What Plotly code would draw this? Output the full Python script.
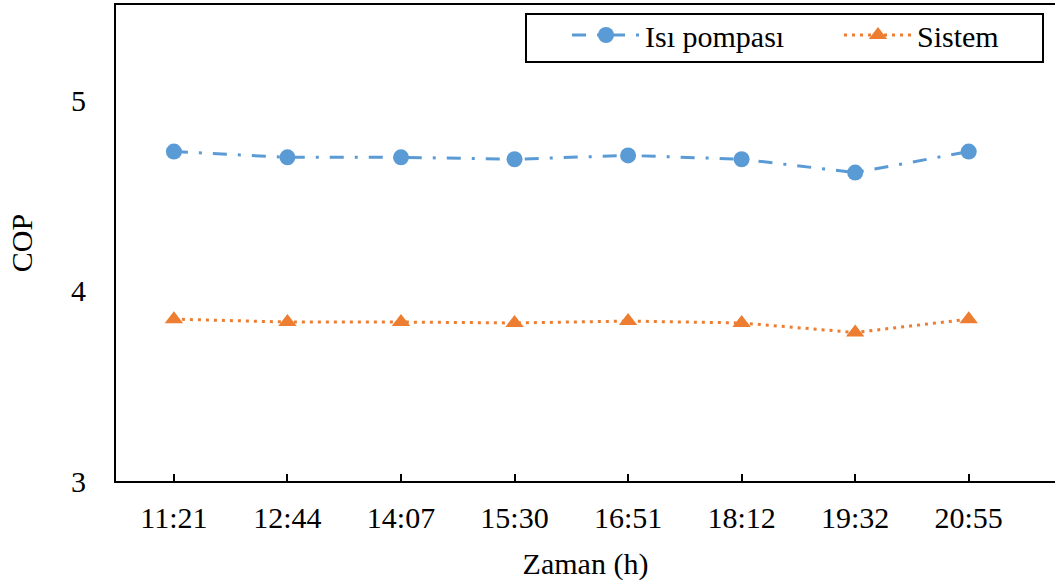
import plotly.graph_objects as go

times = ["11:21", "12:44", "14:07", "15:30", "16:51", "18:12", "19:32", "20:55"]
isi_pompasi = [4.73, 4.70, 4.70, 4.69, 4.71, 4.69, 4.62, 4.73]
sistem = [3.85, 3.835, 3.835, 3.83, 3.84, 3.83, 3.78, 3.85]

FONT = "Liberation Serif, Times New Roman, serif"
BLUE = "#5B9BD5"
ORANGE = "#ED7D31"

fig = go.Figure()
fig.add_trace(go.Scatter(
    x=times, y=isi_pompasi, name="Isı pompası", mode="lines+markers",
    line=dict(color=BLUE, width=3, dash="14px,11px,3px,11px"),
    marker=dict(symbol="circle", size=16, color=BLUE),
    legend="legend",
))
fig.add_trace(go.Scatter(
    x=times, y=sistem, name="Sistem", mode="lines+markers",
    line=dict(color=ORANGE, width=3, dash="3px,5px"),
    marker=dict(symbol="triangle-up", size=16, color=ORANGE),
    legend="legend2",
))

legend_common = dict(
    orientation="h", yanchor="middle", xanchor="left",
    borderwidth=0, bgcolor="rgba(0,0,0,0)",
    font=dict(family=FONT, size=30, color="black"),
    itemwidth=68,
)

# plot area in pixels: x 116..1055, y 5..481
def px_x(p):
    return (p - 116) / 939

def px_y(p):
    return (481 - p) / 476

fig.update_layout(
    width=1055, height=585,
    margin=dict(l=116, r=0, t=5, b=104),
    paper_bgcolor="white", plot_bgcolor="white",
    font=dict(family=FONT, size=30, color="black"),
    showlegend=True,
    legend=dict(x=px_x(567), y=px_y(35), **legend_common),
    legend2=dict(x=px_x(839), y=px_y(35), **legend_common),
    shapes=[dict(
        type="rect", xref="paper", yref="paper",
        x0=px_x(526), x1=px_x(1043), y0=px_y(62), y1=px_y(14),
        line=dict(color="black", width=2), fillcolor="rgba(0,0,0,0)",
        layer="above",
    )],
    xaxis=dict(
        type="category", range=[-0.51, 7.76],
        showline=True, linecolor="black", linewidth=2, mirror=True,
        ticks="inside", ticklen=7, tickwidth=2, tickcolor="black",
        showgrid=False, zeroline=False,
        ticklabelstandoff=9,
        title=dict(text="Zaman (h)", standoff=20, font=dict(family=FONT, size=30)),
        tickfont=dict(family=FONT, size=30),
    ),
    yaxis=dict(
        range=[3, 5.5], tickvals=[3, 4, 5],
        showline=True, linecolor="black", linewidth=2,
        ticks="", showgrid=False, zeroline=False,
        ticklabelstandoff=22,
        title=dict(text="COP", standoff=30, font=dict(family=FONT, size=30)),
        tickfont=dict(family=FONT, size=30),
    ),
)

fig.write_html("out.html")
